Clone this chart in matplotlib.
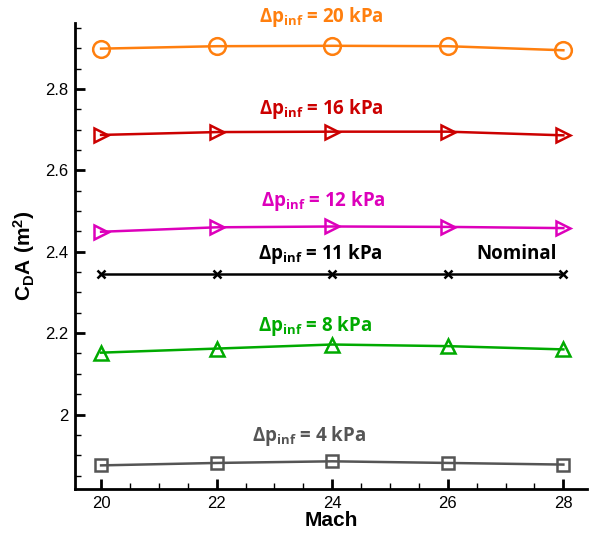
import matplotlib
matplotlib.use("Agg")
import matplotlib.pyplot as plt
from matplotlib.ticker import MultipleLocator, FuncFormatter

plt.rcParams['mathtext.fontset'] = 'custom'
plt.rcParams['mathtext.rm'] = 'Liberation Sans:bold'
plt.rcParams['mathtext.bf'] = 'Open Sans:bold'
plt.rcParams['mathtext.it'] = 'Open Sans:bold'

mach = [20, 22, 24, 26, 28]
cda_20 = [2.899, 2.905, 2.906, 2.905, 2.895]
cda_16 = [2.687, 2.694, 2.695, 2.695, 2.686]
cda_12 = [2.449, 2.460, 2.462, 2.461, 2.458]
cda_11 = [2.346, 2.346, 2.346, 2.346, 2.346]
cda_8 = [2.152, 2.162, 2.172, 2.168, 2.160]
cda_4 = [1.875, 1.881, 1.885, 1.881, 1.877]

labels = ['20', '16', '12', '11', '8', '4']

fig = plt.figure(figsize=(5.96, 5.35), dpi=100)
ax = fig.add_axes([0.126, 0.086, 0.859, 0.871])

series = [
    (cda_20, '#FF7F0E', 'o', 12),
    (cda_16, '#CC0000', '>', 10),
    (cda_12, '#DD00BB', '>', 10),
    (cda_11, '#000000', 'x', 6),
    (cda_8, '#00AA00', '^', 10),
    (cda_4, '#555555', 's', 9),
]
for vals, col, mk, ms in series:
    ax.plot(mach, vals, color=col, lw=1.8, marker=mk, ms=ms,
            mfc='none', mec=col, mew=1.8, clip_on=False, zorder=3)

ann = [
    (23.81, 2.977, labels[0], '#FF7F0E'),
    (23.81, 2.751, labels[1], '#CC0000'),
    (23.85, 2.525, labels[2], '#DD00BB'),
    (23.80, 2.395, labels[3], '#000000'),
    (23.70, 2.218, labels[4], '#00AA00'),
    (23.60, 1.948, labels[5], '#555555'),
]
for x, y, lab, col in ann:
    ax.text(x, y, r'$\mathbf{\Delta p}_{\mathbf{inf}}$' + ' = ' + lab + ' kPa',
            color=col, ha='center', va='center', fontsize=13.5,
            family='Open Sans', fontweight='bold', clip_on=False)
ax.text(27.19, 2.395, 'Nominal', color='black', ha='center', va='center',
        fontsize=13.5, family='Open Sans', fontweight='bold')

ax.set_xlim(19.55, 28.41)
ax.set_ylim(1.817, 2.962)
ax.xaxis.set_major_locator(MultipleLocator(2))
ax.xaxis.set_minor_locator(MultipleLocator(0.5))
ax.yaxis.set_major_locator(MultipleLocator(0.2))
ax.yaxis.set_minor_locator(MultipleLocator(0.05))
ax.yaxis.set_major_formatter(FuncFormatter(lambda v, p: f'{v:g}' if abs(v - round(v)) > 1e-9 else f'{int(round(v))}'))

for s in ['top', 'right']:
    ax.spines[s].set_visible(False)
for s in ['left', 'bottom']:
    ax.spines[s].set_linewidth(2)
ax.tick_params(which='major', direction='in', length=7, width=2,
               labelsize=12, pad=5)
ax.tick_params(which='minor', direction='in', length=4.5, width=1)
for t in ax.get_xticklabels() + ax.get_yticklabels():
    t.set_family('Liberation Sans')

ax.set_xlabel('Mach', fontsize=15, fontweight='bold', family='Liberation Sans', labelpad=0)
ax.set_ylabel(r'$\mathrm{C_DA\ (m^2)}$', fontsize=15, labelpad=6)

fig.savefig('out.png', dpi=100)
